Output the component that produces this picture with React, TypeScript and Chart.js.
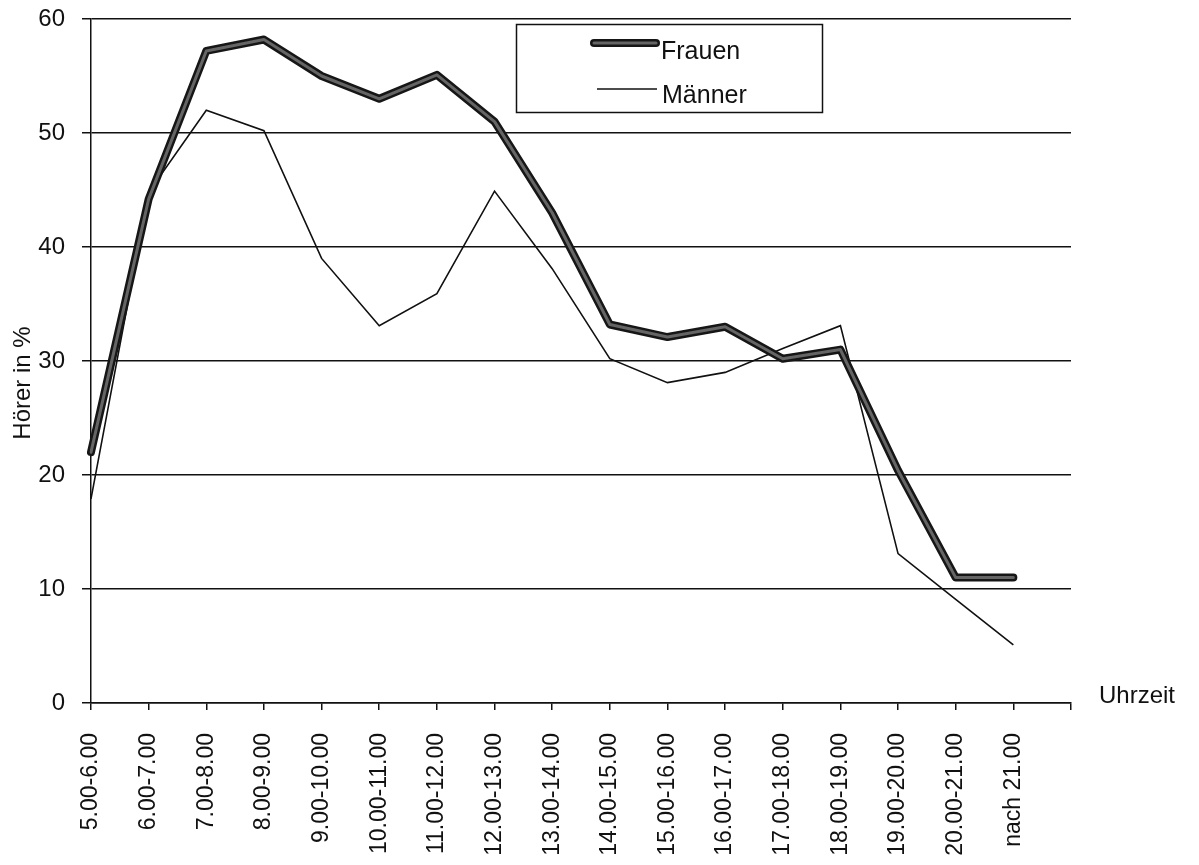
import React, { useEffect, useRef } from "react";
import { Chart, registerables } from "chart.js";

Chart.register(...registerables);

// Uhrzeit-Kategorien (letzter Eintrag leer: Achse läuft eine Stunde weiter)
const zeiten: string[] = [
  "5.00-6.00",
  "6.00-7.00",
  "7.00-8.00",
  "8.00-9.00",
  "9.00-10.00",
  "10.00-11.00",
  "11.00-12.00",
  "12.00-13.00",
  "13.00-14.00",
  "14.00-15.00",
  "15.00-16.00",
  "16.00-17.00",
  "17.00-18.00",
  "18.00-19.00",
  "19.00-20.00",
  "20.00-21.00",
  "nach 21.00",
  "",
];

// Hörer in % je Zeitabschnitt
const frauen: number[] = [22.0, 44.2, 57.2, 58.2, 55.0, 53.0, 55.1, 51.0, 43.0, 33.2, 32.1, 33.0, 30.2, 31.0, 20.4, 11.0, 11.0];
const maenner: number[] = [17.9, 44.8, 52.0, 50.2, 39.0, 33.1, 35.9, 44.9, 38.1, 30.2, 28.1, 29.0, 31.1, 33.1, 13.1, 9.1, 5.1];

const yTicks: number[] = [0, 10, 20, 30, 40, 50, 60];

const FONT = '"Liberation Sans", Arial, Helvetica, sans-serif';

const beschriftung = {
  id: "beschriftung",
  afterDraw(chart: any) {
    const ctx = chart.ctx as CanvasRenderingContext2D;
    const ds = chart.data.datasets;
    ctx.save();

    // Legendenrahmen
    ctx.strokeStyle = "#111";
    ctx.lineWidth = 1.5;
    ctx.strokeRect(516.5, 24.5, 306, 88);

    // Frauen: dicke Linie mit grauem Kern
    ctx.lineCap = "round";
    ctx.strokeStyle = ds[1].borderColor;
    ctx.lineWidth = ds[1].borderWidth;
    ctx.beginPath();
    ctx.moveTo(594, 43);
    ctx.lineTo(656, 43);
    ctx.stroke();
    ctx.strokeStyle = ds[2].borderColor;
    ctx.lineWidth = ds[2].borderWidth;
    ctx.beginPath();
    ctx.moveTo(594, 43);
    ctx.lineTo(656, 43);
    ctx.stroke();

    // Männer: dünne Linie
    ctx.lineCap = "butt";
    ctx.strokeStyle = ds[0].borderColor;
    ctx.lineWidth = ds[0].borderWidth;
    ctx.beginPath();
    ctx.moveTo(597, 89);
    ctx.lineTo(657, 89);
    ctx.stroke();

    ctx.fillStyle = "#111";
    ctx.font = `25px ${FONT}`;
    ctx.textAlign = "left";
    ctx.textBaseline = "middle";
    ctx.fillText("Frauen", 661, 52);
    ctx.fillText("Männer", 662, 96);

    // Achsentitel
    ctx.font = `24px ${FONT}`;
    ctx.fillText("Uhrzeit", 1099, 696);

    ctx.translate(23, 383);
    ctx.rotate(-Math.PI / 2);
    ctx.textAlign = "center";
    ctx.fillText("Hörer in %", 0, 0);
    ctx.restore();
  },
};

export default function App() {
  const ref = useRef<HTMLCanvasElement | null>(null);

  useEffect(() => {
    if (!ref.current) return;
    const chart = new Chart(ref.current, {
      type: "line",
      data: {
        labels: zeiten,
        datasets: [
          {
            label: "Männer",
            data: maenner,
            borderColor: "#111",
            borderWidth: 1.6,
            pointRadius: 0,
            tension: 0,
            order: 3,
          },
          {
            label: "Frauen",
            data: frauen,
            borderColor: "#161616",
            borderWidth: 8,
            borderJoinStyle: "round",
            borderCapStyle: "round",
            pointRadius: 0,
            tension: 0,
            order: 2,
          },
          {
            label: "Frauen (Kern)",
            data: frauen,
            borderColor: "#656565",
            borderWidth: 3,
            borderJoinStyle: "round",
            borderCapStyle: "round",
            pointRadius: 0,
            tension: 0,
            order: 1,
          },
        ],
      },
      options: {
        responsive: false,
        animation: false,
        devicePixelRatio: 1,
        layout: { padding: { top: 19, right: 128, left: 0, bottom: 0 } },
        plugins: {
          legend: { display: false },
          tooltip: { enabled: false },
          title: { display: false },
        },
        scales: {
          x: {
            type: "category",
            offset: false,
            grid: {
              display: true,
              drawOnChartArea: false,
              drawTicks: true,
              tickLength: 7,
              color: "#111",
              lineWidth: 1.5,
            },
            border: { display: true, color: "#111", width: 1.5 },
            ticks: {
              autoSkip: false,
              maxRotation: 90,
              minRotation: 90,
              padding: 23,
              color: "#111",
              font: { family: FONT, size: 23 },
            },
            afterFit: (scale: any) => {
              scale.height = 162;
              scale.paddingLeft = 0;
              scale.paddingRight = 0;
            },
          },
          y: {
            min: 0,
            max: 60,
            afterBuildTicks: (scale: any) => {
              scale.ticks = yTicks.map((v) => ({ value: v }));
            },
            grid: {
              display: true,
              drawTicks: true,
              tickLength: 9,
              color: "#111",
              lineWidth: 1.5,
            },
            border: { display: true, color: "#111", width: 1.5 },
            ticks: {
              padding: 17,
              color: "#111",
              font: { family: FONT, size: 24 },
            },
            afterFit: (scale: any) => {
              scale.width = 91;
              scale.paddingTop = 0;
              scale.paddingBottom = 0;
            },
          },
        },
      },
      plugins: [beschriftung],
    });
    return () => chart.destroy();
  }, []);

  return (
    <div style={{ position: "fixed", left: 0, top: 0, width: 1199, height: 865, background: "#fff" }}>
      <canvas ref={ref} width={1199} height={865} style={{ display: "block" }} />
    </div>
  );
}
